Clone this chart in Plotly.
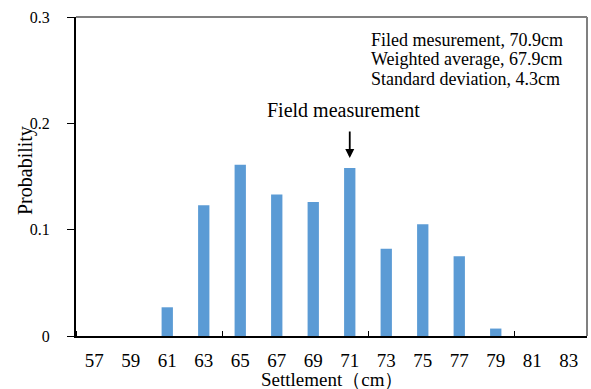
import plotly.graph_objects as go

# Data
settlement = [57, 59, 61, 63, 65, 67, 69, 71, 73, 75, 77, 79, 81, 83]
probability = [0, 0, 0.027, 0.123, 0.161, 0.133, 0.126, 0.158, 0.082, 0.105, 0.075, 0.007, 0, 0]
y_ticks = [0, 0.1, 0.2, 0.3]
y_ticktext = ["0", "0.1", "0.2", "0.3"]
info_lines = ["Filed mesurement, 70.9cm", "Weighted average, 67.9cm", "Standard deviation, 4.3cm"]
field_value = 71

FONT = "Liberation Serif, Times New Roman, serif"
BAR = "#5B9BD5"

fig = go.Figure()
fig.add_trace(go.Bar(
    x=settlement, y=probability,
    marker=dict(color=BAR, line=dict(width=0)),
    hoverinfo="x+y",
))

fig.update_layout(
    width=591, height=389,
    margin=dict(l=76, r=4, t=17, b=53),
    paper_bgcolor="white", plot_bgcolor="white",
    showlegend=False,
    bargap=0.69,
    font=dict(family=FONT, color="black"),
)

fig.update_xaxes(
    range=[56, 84],
    tickvals=settlement,
    ticktext=[str(v) for v in settlement],
    ticks="",
    tickfont=dict(family=FONT, size=19, color="black"),
    ticklabelstandoff=6,
    showgrid=False, zeroline=False,
    showline=True, linecolor="black", linewidth=2,
    minor=dict(ticks="inside", ticklen=5, tick0=56, dtick=8,
               tickcolor="black", tickwidth=1, showgrid=False),
)
fig.update_yaxes(
    range=[0, 0.3],
    tickvals=y_ticks,
    ticktext=y_ticktext,
    ticks="outside", ticklen=7, tickcolor="black", tickwidth=1,
    tickfont=dict(family=FONT, size=16, color="black"),
    ticklabelstandoff=14,
    showgrid=False, zeroline=False,
    showline=True, linecolor="black", linewidth=2,
)

# gray top and right frame
fig.add_shape(type="line", xref="paper", yref="paper", x0=0, x1=1, y0=1, y1=1,
              line=dict(color="#808080", width=2))
fig.add_shape(type="line", xref="paper", yref="paper", x0=1, x1=1, y0=0, y1=1,
              line=dict(color="#808080", width=2))

# axis titles
fig.add_annotation(text="Settlement（cm）", xref="paper", yref="paper",
                   x=0.5, y=-0.137, xanchor="center", yanchor="middle",
                   showarrow=False, font=dict(family=FONT, size=19, color="black"))
fig.add_annotation(text="Probability", xref="paper", yref="paper",
                   x=-0.1, y=0.52, xanchor="center", yanchor="middle", textangle=-90,
                   showarrow=False, font=dict(family=FONT, size=20, color="black"))

# info text lines
for i, line in enumerate(info_lines):
    fig.add_annotation(text=line, xref="paper", yref="paper",
                       x=0.573, y=0.928 - i * 0.061, xanchor="left", yanchor="middle",
                       showarrow=False, font=dict(family=FONT, size=18, color="black"))

# field measurement label & arrow
field_prob = probability[settlement.index(field_value)]
fig.add_annotation(text="Field measurement", x=field_value, y=field_prob,
                   xshift=-6, yshift=58, xanchor="center", yanchor="middle",
                   showarrow=False, font=dict(family=FONT, size=20, color="black"))
fig.add_annotation(text="", x=field_value, y=field_prob, ax=0, ay=-38,
                   showarrow=True, arrowhead=2, arrowsize=1, arrowwidth=1.8,
                   arrowcolor="black", standoff=10)

fig.write_html("out.html", config={"displayModeBar": False},
               post_script="document.body.style.margin='0';document.body.style.overflow='hidden';")
